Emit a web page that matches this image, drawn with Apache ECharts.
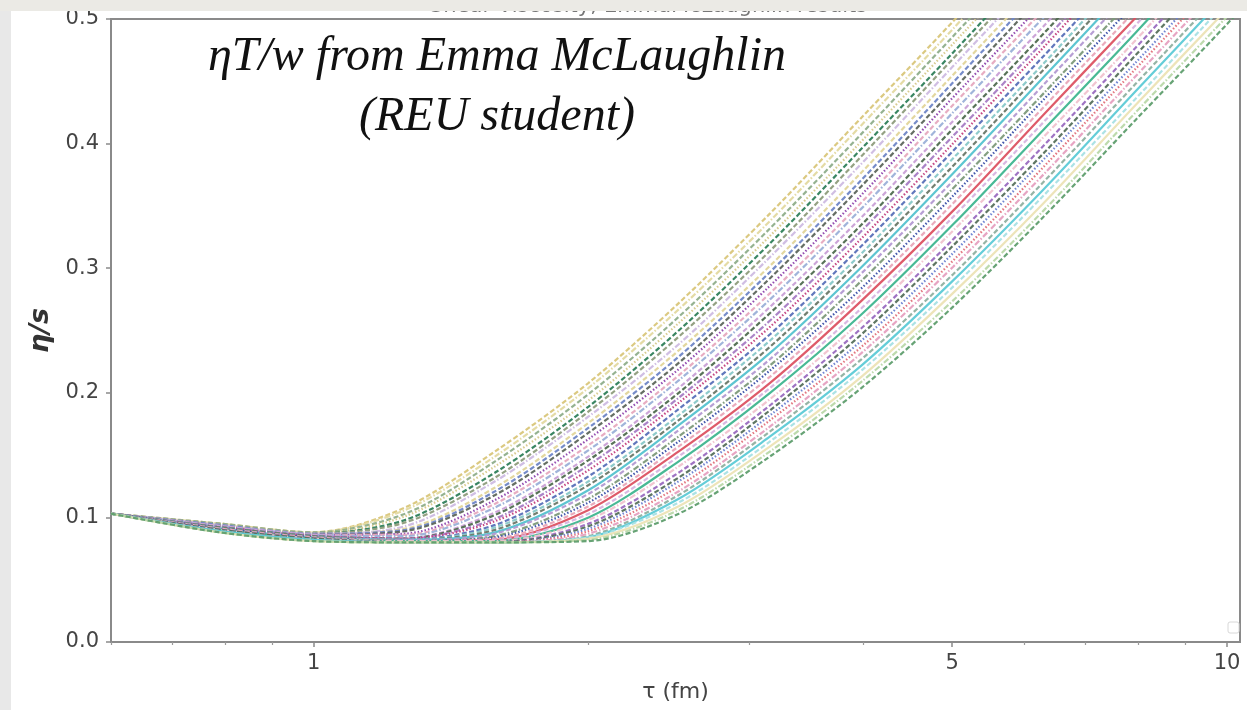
<!DOCTYPE html>
<html>
<head>
<meta charset="utf-8">
<title>Shear Viscosity</title>
<script src="https://cdn.jsdelivr.net/npm/echarts@6/dist/echarts.min.js"></script>
<style>
  html, body { margin: 0; padding: 0; background: #ffffff; }
  #chart { width: 1247px; height: 710px; }
</style>
</head>
<body>
<div id="chart"></div>
<script>
// Proper time grid (fm) shared by every run
const tau = [0.6, 0.79, 1.0, 1.26, 1.58, 2.0, 2.51, 3.16, 3.98, 5.01, 6.31, 7.94, 10.0, 12.6];

// eta/s along tau for each run (a run ends once it has left the plot)
const run01 = [0.103, 0.095, 0.088, 0.108, 0.153, 0.208, 0.272, 0.344, 0.421, 0.498, 0.578];
const run02 = [0.103, 0.095, 0.088, 0.106, 0.149, 0.204, 0.267, 0.338, 0.415, 0.492, 0.572];
const run03 = [0.103, 0.095, 0.088, 0.103, 0.145, 0.199, 0.261, 0.332, 0.408, 0.486, 0.565];
const run04 = [0.103, 0.094, 0.087, 0.101, 0.141, 0.194, 0.256, 0.326, 0.402, 0.480, 0.559];
const run05 = [0.103, 0.094, 0.087, 0.098, 0.136, 0.189, 0.250, 0.320, 0.396, 0.473, 0.552];
const run06 = [0.103, 0.094, 0.087, 0.096, 0.132, 0.185, 0.245, 0.314, 0.390, 0.468, 0.546];
const run07 = [0.103, 0.094, 0.087, 0.093, 0.129, 0.181, 0.239, 0.309, 0.384, 0.462, 0.540];
const run08 = [0.103, 0.094, 0.087, 0.091, 0.124, 0.176, 0.234, 0.302, 0.377, 0.455, 0.533];
const run09 = [0.103, 0.094, 0.087, 0.090, 0.121, 0.172, 0.229, 0.297, 0.371, 0.449, 0.527];
const run10 = [0.103, 0.093, 0.086, 0.089, 0.118, 0.168, 0.224, 0.292, 0.366, 0.443, 0.521];
const run11 = [0.103, 0.093, 0.086, 0.087, 0.114, 0.163, 0.219, 0.286, 0.359, 0.437, 0.514];
const run12 = [0.103, 0.093, 0.086, 0.086, 0.111, 0.158, 0.214, 0.280, 0.353, 0.431, 0.508];
const run13 = [0.103, 0.093, 0.086, 0.085, 0.108, 0.154, 0.210, 0.275, 0.348, 0.425, 0.502];
const run14 = [0.103, 0.093, 0.086, 0.083, 0.104, 0.149, 0.204, 0.269, 0.341, 0.418, 0.495, 0.575];
const run15 = [0.103, 0.092, 0.085, 0.083, 0.102, 0.146, 0.200, 0.264, 0.335, 0.412, 0.489, 0.569];
const run16 = [0.103, 0.092, 0.085, 0.083, 0.099, 0.142, 0.196, 0.258, 0.330, 0.406, 0.483, 0.563];
const run17 = [0.103, 0.092, 0.085, 0.083, 0.097, 0.138, 0.192, 0.253, 0.324, 0.400, 0.478, 0.557];
const run18 = [0.103, 0.092, 0.085, 0.082, 0.094, 0.133, 0.187, 0.247, 0.318, 0.394, 0.471, 0.550];
const run19 = [0.103, 0.092, 0.085, 0.082, 0.092, 0.129, 0.182, 0.242, 0.312, 0.388, 0.465, 0.544];
const run20 = [0.103, 0.092, 0.085, 0.082, 0.090, 0.126, 0.178, 0.237, 0.307, 0.382, 0.460, 0.538];
const run21 = [0.103, 0.091, 0.084, 0.082, 0.088, 0.122, 0.174, 0.232, 0.301, 0.376, 0.454, 0.532];
const run22 = [0.103, 0.091, 0.084, 0.082, 0.087, 0.119, 0.170, 0.227, 0.296, 0.370, 0.448, 0.526];
const run23 = [0.103, 0.091, 0.084, 0.081, 0.085, 0.115, 0.165, 0.222, 0.290, 0.364, 0.441, 0.519];
const run24 = [0.103, 0.091, 0.084, 0.081, 0.084, 0.112, 0.161, 0.218, 0.284, 0.358, 0.436, 0.513];
const run25 = [0.103, 0.091, 0.084, 0.081, 0.083, 0.109, 0.157, 0.213, 0.279, 0.352, 0.430, 0.507];
const run26 = [0.103, 0.090, 0.083, 0.081, 0.082, 0.106, 0.153, 0.208, 0.274, 0.346, 0.424, 0.501];
const run27 = [0.103, 0.090, 0.083, 0.081, 0.082, 0.103, 0.149, 0.204, 0.268, 0.341, 0.418, 0.495, 0.575];
const run28 = [0.103, 0.090, 0.083, 0.081, 0.081, 0.100, 0.145, 0.200, 0.263, 0.335, 0.412, 0.489, 0.569];
const run29 = [0.103, 0.090, 0.083, 0.081, 0.081, 0.098, 0.141, 0.195, 0.258, 0.330, 0.406, 0.483, 0.563];
const run30 = [0.103, 0.090, 0.083, 0.080, 0.080, 0.095, 0.136, 0.190, 0.252, 0.323, 0.399, 0.477, 0.556];
const run31 = [0.103, 0.090, 0.083, 0.080, 0.080, 0.093, 0.132, 0.186, 0.247, 0.318, 0.393, 0.471, 0.550];
const run32 = [0.103, 0.089, 0.082, 0.080, 0.080, 0.091, 0.129, 0.182, 0.242, 0.312, 0.388, 0.465, 0.544];
const run33 = [0.103, 0.089, 0.082, 0.080, 0.080, 0.089, 0.125, 0.178, 0.237, 0.306, 0.382, 0.460, 0.538];
const run34 = [0.103, 0.089, 0.082, 0.080, 0.080, 0.087, 0.121, 0.173, 0.232, 0.301, 0.376, 0.454, 0.532];
const run35 = [0.103, 0.089, 0.082, 0.080, 0.080, 0.085, 0.118, 0.169, 0.227, 0.295, 0.370, 0.448, 0.526];
const run36 = [0.103, 0.089, 0.082, 0.080, 0.080, 0.084, 0.115, 0.165, 0.222, 0.290, 0.364, 0.442, 0.520];
const run37 = [0.103, 0.088, 0.081, 0.080, 0.080, 0.084, 0.112, 0.161, 0.218, 0.285, 0.359, 0.436, 0.514];
const run38 = [0.103, 0.088, 0.081, 0.080, 0.080, 0.083, 0.109, 0.157, 0.213, 0.280, 0.353, 0.431, 0.508];
const run39 = [0.103, 0.088, 0.081, 0.080, 0.080, 0.082, 0.106, 0.153, 0.209, 0.274, 0.347, 0.425, 0.502];
const run40 = [0.103, 0.088, 0.081, 0.080, 0.080, 0.081, 0.103, 0.149, 0.204, 0.269, 0.342, 0.419, 0.496, 0.576];

const runs = [run01, run02, run03, run04, run05, run06, run07, run08, run09, run10,
              run11, run12, run13, run14, run15, run16, run17, run18, run19, run20,
              run21, run22, run23, run24, run25, run26, run27, run28, run29, run30,
              run31, run32, run33, run34, run35, run36, run37, run38, run39, run40];

// Axis tick positions
const xMajorTicks = [1, 5, 10];
const xMinorTicks = [0.6, 0.7, 0.8, 0.9, 2, 3, 4, 6, 7, 8, 9];

// Line colour and dash pattern of each run
const runColors = [
  '#d9c67a', '#e3d9a0', '#8fae8a', '#d6c88a', '#2f7f5a', '#8e9c7c', '#cdbbe2', '#e2d59a',
  '#6f86c6', '#5d665c', '#8e44ad', '#e6a9bf', '#9bb0d8', '#c9a0d6', '#4f6b4f', '#a77cc4',
  '#c2407e', '#5870b8', '#88c8c8', '#6a7868', '#54c2cf', '#b39ad2', '#7d9a7a', '#3a4fa8',
  '#e9a6b8', '#dc5262', '#d7b4e0', '#3fb58f', '#f0c2cf', '#9a6cc0', '#56705c', '#6a7fd0',
  '#e0707a', '#e6a0c0', '#8fb0a0', '#5ccad6', '#a8e0e4', '#ece3b5', '#b9d8a9', '#5f9e6e'
];
const runDashes = [
  'dash', 'dashdot', 'dash', 'dot', 'dash', 'dash', 'dashdot', 'dash',
  'dash', 'dash', 'dot', 'dash', 'dashdot', 'dash', 'dash', 'dashdot',
  'dot', 'dash', 'dash', 'dash', 'solid', 'dash', 'dashdot', 'dot',
  'dash', 'solid', 'dash', 'solid', 'dashdot', 'dash', 'dash', 'dot',
  'dot', 'dashdot', 'dash', 'solid', 'dash', 'solid', 'dashdot', 'dash'
];
const dashPatterns = {
  solid: 'solid',
  dash: [5, 2.5],
  dot: [1.5, 2],
  dashdot: [6, 2, 1.5, 2]
};

const series = runs.map(function (vals, i) {
  return {
    type: 'line',
    xAxisIndex: 0,
    yAxisIndex: 0,
    showSymbol: false,
    smooth: 0.3,
    clip: true,
    silent: true,
    lineStyle: {
      color: runColors[i],
      width: 2.2,
      type: dashPatterns[runDashes[i]],
      opacity: 0.95
    },
    data: vals.map(function (v, k) { return [tau[k], v]; })
  };
});

const tickFont = { fontFamily: 'DejaVu Sans', fontSize: 21, color: '#444' };

const chart = echarts.init(document.getElementById('chart'), null, { renderer: 'canvas' });
chart.setOption({
  animation: false,
  backgroundColor: '#ffffff',
  grid: {
    left: 111, top: 19, right: 7, bottom: 68,
    show: true, borderColor: '#8a8a8a', borderWidth: 2, backgroundColor: '#ffffff'
  },
  xAxis: [
    {
      type: 'log', logBase: 10, min: 0.6, max: 10.33,
      name: 'τ (fm)', nameLocation: 'middle', nameGap: 39,
      nameTextStyle: { fontFamily: 'DejaVu Sans', fontSize: 22, color: '#444' },
      axisLine: { show: true, lineStyle: { color: '#8a8a8a', width: 2 } },
      axisTick: { show: true, customValues: xMajorTicks, length: 5, inside: false,
                  lineStyle: { color: '#8a8a8a', width: 1.5 } },
      axisLabel: Object.assign({ show: true, customValues: xMajorTicks, margin: 11,
                  formatter: function (v) { return String(Math.round(v)); } }, tickFont),
      splitLine: { show: false },
      minorTick: { show: false }
    },
    {
      type: 'log', logBase: 10, min: 0.6, max: 10.33, position: 'bottom',
      axisLine: { show: false },
      axisTick: { show: true, customValues: xMinorTicks, length: 3, inside: false,
                  lineStyle: { color: '#9a9a9a', width: 1.2 } },
      axisLabel: { show: false },
      splitLine: { show: false }
    }
  ],
  yAxis: {
    type: 'value', min: 0, max: 0.5, interval: 0.1,
    name: 'η/s', nameLocation: 'middle', nameGap: 47, nameRotate: 90,
    nameTextStyle: { fontFamily: 'DejaVu Sans', fontSize: 27, fontStyle: 'italic',
                     fontWeight: 'bold', color: '#333' },
    axisLine: { show: true, lineStyle: { color: '#8a8a8a', width: 2 } },
    axisTick: { show: true, length: 5, lineStyle: { color: '#8a8a8a', width: 1.5 } },
    axisLabel: Object.assign({ margin: 12,
                formatter: function (v) { return v.toFixed(1); } }, tickFont),
    splitLine: { show: false }
  },
  series: series,
  graphic: [
    {
      type: 'text', left: 430, top: -4, z: 5,
      style: { text: 'Shear Viscosity; EmmaMcLaughlin results', fill: '#777',
               font: '21px "DejaVu Sans"' }
    },
    {
      type: 'rect', z: 10, shape: { x: 0, y: 0, width: 1247, height: 11 },
      style: { fill: '#ebeae5' }
    },
    {
      type: 'rect', z: 10, shape: { x: 0, y: 11, width: 11, height: 699 },
      style: { fill: '#e8e8e8' }
    },
    {
      type: 'text', z: 20, x: 497, y: 81,
      style: { text: 'ηT/w from Emma McLaughlin', fill: '#111',
               font: 'italic 48px "Liberation Serif"', textAlign: 'center', textVerticalAlign: 'bottom' }
    },
    {
      type: 'text', z: 20, x: 497, y: 141,
      style: { text: '(REU student)', fill: '#111',
               font: 'italic 48px "Liberation Serif"', textAlign: 'center', textVerticalAlign: 'bottom' }
    },
    {
      type: 'rect', z: 20, shape: { x: 1228, y: 622, width: 11, height: 11, r: 2 },
      style: { fill: '#ffffff', stroke: '#d8d8d8', lineWidth: 1 }
    }
  ]
});
</script>
</body>
</html>
